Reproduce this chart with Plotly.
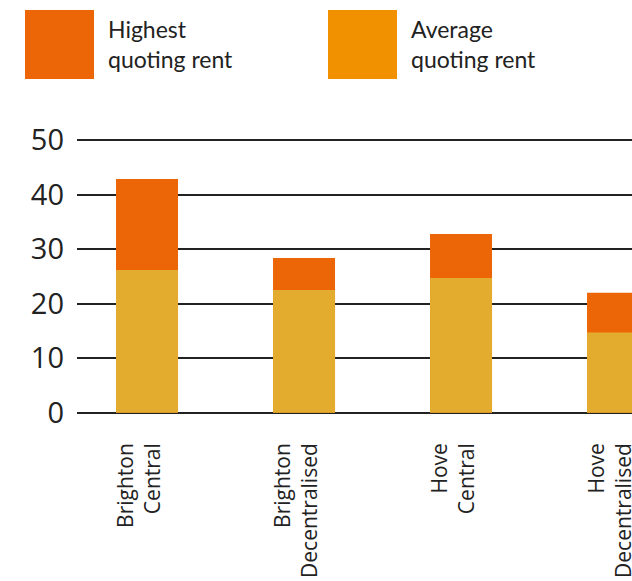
import plotly.graph_objects as go

categories = ["Brighton<br>Central", "Brighton<br>Decentralised", "Hove<br>Central", "Hove<br>Decentralised"]
highest_rent = [42.9, 28.4, 32.8, 22.0]
average_rent = [26.2, 22.5, 24.7, 14.7]
y_ticks = [0, 10, 20, 30, 40, 50]

C_HIGH = "#EC6608"
C_AVG_BAR = "#E3AC2F"
C_AVG_LEG = "#F29100"

W, H = 632, 581
ML, MR, MT, MB = 77, 0, 120, 161
X_RANGE = [-0.446, 3.089]
LABEL_SHIFT = -0.045

xs = list(range(len(categories)))

fig = go.Figure()
fig.add_trace(go.Bar(x=xs, y=highest_rent, marker=dict(color=C_HIGH, line=dict(width=0)),
                     width=0.395, name="Highest quoting rent", showlegend=False))
fig.add_trace(go.Bar(x=xs, y=average_rent, marker=dict(color=C_AVG_BAR, line=dict(width=0)),
                     width=0.395, name="Average quoting rent", showlegend=False))

pw = W - ML - MR
ph = H - MT - MB

def px(x):
    return (x - ML) / pw

def py(y):
    return 1 - (y - MT) / ph

shapes = []
annotations = []
legend_items = [("Highest<br>quoting rent", C_HIGH, 25, 94, 106), ("Average<br>quoting rent", C_AVG_LEG, 328, 397, 409)]
for text, col, x0, x1, tx in legend_items:
    shapes.append(dict(type="rect", xref="paper", yref="paper", x0=px(x0), x1=px(x1), y0=py(79), y1=py(10),
                       fillcolor=col, line=dict(width=0), layer="above"))
    annotations.append(dict(xref="paper", yref="paper", x=px(tx), y=py(44), xanchor="left", yanchor="middle",
                            text=text, showarrow=False, align="left",
                            font=dict(family="Lato", size=23, color="#222222")))

fig.update_layout(
    width=W, height=H,
    margin=dict(l=ML, r=MR, t=MT, b=MB, pad=0, autoexpand=False),
    barmode="overlay",
    plot_bgcolor="white", paper_bgcolor="white",
    shapes=shapes, annotations=annotations,
    xaxis=dict(range=X_RANGE, showticklabels=False, showgrid=False, zeroline=False, showline=False,
               ticks="", automargin=False),
    xaxis2=dict(range=X_RANGE, overlaying="x", anchor="y", side="bottom", tickmode="array",
                tickvals=[x + LABEL_SHIFT for x in xs], ticktext=categories,
                tickangle=-90, showgrid=False, zeroline=False, showline=False, ticks="", automargin=False,
                ticklabelstandoff=18, ticklabeloverflow="allow",
                tickfont=dict(family="Open Sans", size=21, color="#222222")),
    yaxis=dict(range=[-1.34, 53.71], tickmode="array", tickvals=y_ticks, showgrid=True, gridcolor="#222222",
               gridwidth=2, zeroline=False, showline=False, ticks="", ticklabelstandoff=12, automargin=False,
               tickfont=dict(family="Open Sans", size=29, color="#222222")),
)
# an invisible trace so that xaxis2 is drawn
fig.add_trace(go.Scatter(x=[xs[0]], y=[None], xaxis="x2", yaxis="y", showlegend=False, hoverinfo="skip"))

fig.write_html("out.html")
